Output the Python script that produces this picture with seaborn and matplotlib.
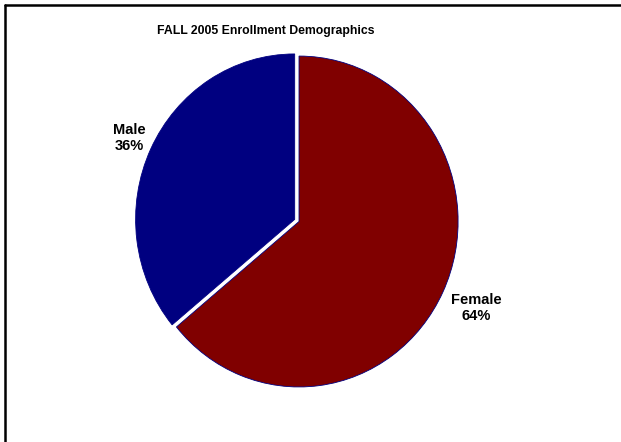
import numpy as np
import matplotlib
matplotlib.use('Agg')
import matplotlib.pyplot as plt
from matplotlib.lines import Line2D
import seaborn as sns

# enrollment split
labels = ['Female', 'Male']
shares = [64, 36]
colors = ['#800000', '#000080']
explode = [0, 0.03]
label_dist = [1.23, 1.15]
title = 'FALL 2005 Enrollment Demographics'

sns.set_theme(style='white')
plt.rcParams['font.family'] = ['Liberation Sans', 'DejaVu Sans']

fig = plt.figure(figsize=(6.21, 4.42), dpi=100)
ax = fig.add_axes([0.1997, 0.0871, 0.5636, 0.8235])

wedges, _ = ax.pie(shares, colors=colors, explode=explode,
                   startangle=90, counterclock=False, labeldistance=None,
                   wedgeprops=dict(edgecolor='#000080', linewidth=0.6))

# place labels along each wedge's mid angle
for w, l, s, d in zip(wedges, labels, shares, label_dist):
    ang = np.deg2rad((w.theta1 + w.theta2) / 2)
    cx, cy = w.center
    ax.text(cx + d * np.cos(ang), cy + d * np.sin(ang), f'{l}\n{s}%',
            ha='center', va='center', multialignment='center',
            fontsize=10.5, fontweight='bold', color='black')

ax.set_aspect('auto')
ax.set_xlim(-1.1, 1.1)
ax.set_ylim(-1.1, 1.1)

fig.text(266 / 621, 1 - 31 / 442, title, ha='center', va='center',
         fontsize=8.8, fontweight='bold', color='black')

# chart border (top and left edges visible)
fig.add_artist(Line2D([5 / 621, 1], [1 - 5 / 442, 1 - 5 / 442], color='black', lw=1.8))
fig.add_artist(Line2D([5 / 621, 5 / 621], [0, 1 - 5 / 442], color='black', lw=1.8))

fig.savefig('out.png', dpi=100, facecolor='white')
